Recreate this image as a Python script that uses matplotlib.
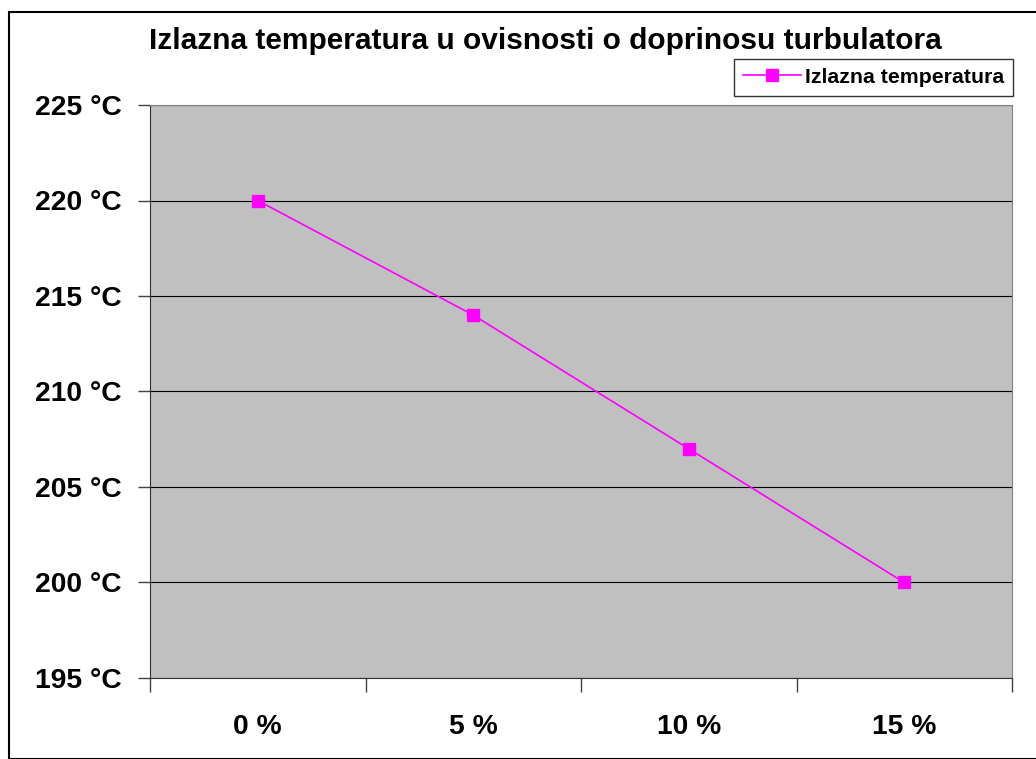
import matplotlib.pyplot as plt
from matplotlib.patches import Rectangle

plt.rcParams['font.family'] = ['Liberation Sans', 'DejaVu Sans']

categories = ['0 %', '5 %', '10 %', '15 %']
temperature = [220, 214, 207, 200]
y_ticks = [195, 200, 205, 210, 215, 220, 225]

W, H = 1036, 759
fig = plt.figure(figsize=(W / 100, H / 100), dpi=100)

# outer chart border (Excel-like, clipped on right/bottom)
fig.patches.append(Rectangle((9 / W, 0), 1.2, 1 - 12 / H, transform=fig.transFigure,
                             fill=False, edgecolor='black', linewidth=1.5))

ax = fig.add_axes([150 / W, 1 - 678 / H, (1012 - 150) / W, (678 - 105) / H])
ax.set_facecolor('#C0C0C0')

xs = range(len(categories))
ax.plot(xs, temperature, color='#FF00FF', linewidth=1.2, marker='s',
        markersize=8.5, markerfacecolor='#FF00FF', markeredgecolor='#FF00FF',
        label='Izlazna temperatura', zorder=3)

ax.set_xlim(-0.5, len(categories) - 0.5)
ax.set_ylim(195, 225)
ax.set_yticks(y_ticks)
ax.set_yticklabels([f'{v} °C' for v in y_ticks], fontsize=20.3, fontweight='bold')
ax.set_xticks(list(xs))
ax.set_xticklabels(categories, fontsize=20.3, fontweight='bold')
ax.tick_params(axis='x', length=0, pad=26)
ax.set_xticks([i - 0.5 for i in range(len(categories) + 1)], minor=True)
ax.tick_params(axis='x', which='minor', length=10, width=1, color='#404040')
ax.tick_params(axis='y', length=9, width=1, color='#404040', pad=11.5)

ax.grid(axis='y', color='black', linewidth=0.8)
ax.set_axisbelow(True)
for s in ['top', 'right']:
    ax.spines[s].set_color('#808080')
for s in ['left', 'bottom']:
    ax.spines[s].set_color('#303030')

fig.text(545 / W, 1 - 41 / H, 'Izlazna temperatura u ovisnosti o doprinosu turbulatora',
         ha='center', va='center', fontsize=21.5, fontweight='bold')

leg = ax.legend(loc='upper right', bbox_to_anchor=(1013 / W, 1 - 59 / H),
                bbox_transform=fig.transFigure, frameon=True, fancybox=False,
                prop={'weight': 'bold', 'size': 15.3}, handlelength=2.7,
                borderpad=0.42, handletextpad=0.2, borderaxespad=0)
leg.get_frame().set_edgecolor('black')
leg.get_frame().set_linewidth(1)

fig.savefig('out.png', dpi=100)
